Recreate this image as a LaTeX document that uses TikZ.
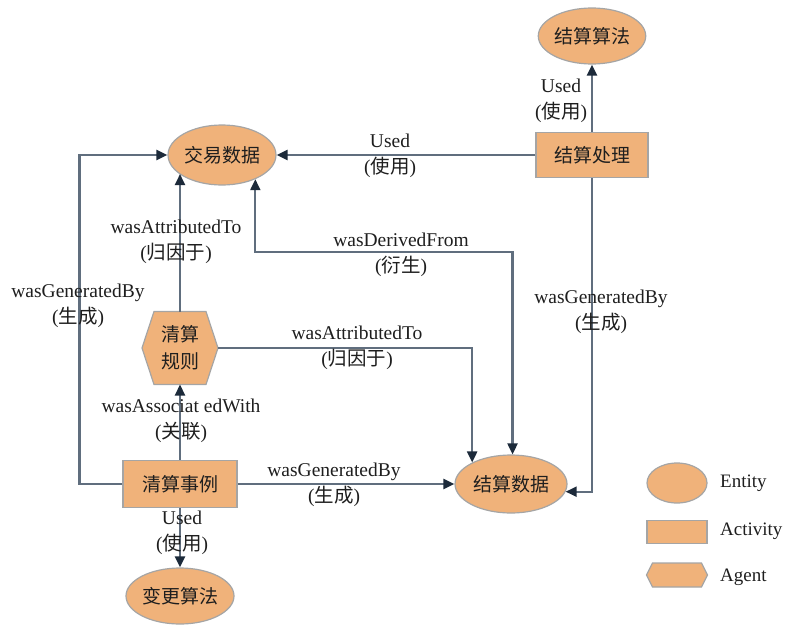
\documentclass[tikz,border=0pt]{standalone}
\usepackage{fontspec}
\setmainfont{Liberation Serif}
\newfontfamily\cjk{Noto Sans CJK SC}
\usetikzlibrary{arrows.meta,shapes.geometric,calc,backgrounds}

\definecolor{nodefill}{RGB}{240,178,122}
\definecolor{nodeedge}{RGB}{165,165,165}
\definecolor{linkc}{RGB}{96,110,126}
\definecolor{tipc}{RGB}{28,42,58}
\definecolor{txt}{RGB}{30,30,30}

\newcommand\zh[1]{{\cjk #1}}
% hexagon outline around a rectangular node: #1 node name, #2 corner cut
\newcommand\hexaround[2]{%
  \filldraw[fill=nodefill,draw=nodeedge,line width=1.2pt]
    (#1.west) -- ($(#1.north west)+(#2,0)$) -- ($(#1.north east)+(-#2,0)$)
    -- (#1.east) -- ($(#1.south east)+(-#2,0)$) -- ($(#1.south west)+(#2,0)$) -- cycle;}

\tikzset{
  nodetext/.style={font=\cjk\fontsize{19}{27}\selectfont, text=txt, align=center},
  entity/.style={ellipse, fill=nodefill, draw=nodeedge, line width=1.2pt, inner sep=0pt, nodetext},
  activity/.style={rectangle, fill=nodefill, draw=nodeedge, line width=1.2pt, inner sep=0pt, nodetext},
  agent/.style={rectangle, inner sep=0pt, outer sep=0pt, nodetext},
  link/.style={draw=linkc, line width=2.2pt, -{Triangle[length=11pt,width=10pt,color=tipc]}},
  linkboth/.style={draw=linkc, line width=2.2pt, {Triangle[length=11pt,width=10pt,color=tipc]}-{Triangle[length=11pt,width=10pt,color=tipc]}},
  lbl/.style={align=center, font=\fontsize{19.5}{26}\selectfont, text=txt, inner sep=0pt},
  keytext/.style={anchor=west, font=\fontsize{19}{22}\selectfont, text=txt, inner sep=0pt},
}

\begin{document}
\begin{tikzpicture}[x=1pt,y=-1pt]
\useasboundingbox (0,0) rectangle (787,624);

% provenance entities, activities and agent
\node[entity, minimum width=108pt, minimum height=60pt] (trade) at (222,155) {交易数据};
\node[entity, minimum width=106pt, minimum height=56pt] (algo) at (592,36) {结算算法};
\node[activity, minimum width=112pt, minimum height=45pt] (proc) at (592,155) {结算处理};
\node[agent, minimum width=76pt, minimum height=73pt] (rule) at (180,348) {清算\\规则};
\node[activity, minimum width=114pt, minimum height=47pt] (case) at (180,484) {清算事例};
\node[entity, minimum width=112pt, minimum height=58pt] (data) at (511,484) {结算数据};
\node[entity, minimum width=108pt, minimum height=56pt] (change) at (180,596) {变更算法};

% legend
\node[entity, minimum width=60pt, minimum height=40pt] (kent) at (677,483) {};
\node[activity, minimum width=60pt, minimum height=23pt] (kact) at (677,532) {};
\node[agent, minimum width=61pt, minimum height=24pt] (kagt) at (677,575) {};
\node[keytext] (tent) at (720,483) {Entity};
\node[keytext] (tact) at (720,531) {Activity};
\node[keytext] (tagt) at (720,577) {Agent};

\begin{scope}[on background layer]
  \hexaround{rule}{12}
  \hexaround{kagt}{6}
\end{scope}

% relations
\draw[link] (case.west) -- ++(-43,0) |- (trade.west);
\draw[link] (rule.north) -- (rule.north |- trade.204);
\draw[link] (proc.west) -- (trade.east);
\draw[link] (proc.north) -- (algo.south);
\draw[linkboth] (trade.-36) -- ++(0,73) -| (data.87);
\draw[link] (rule.east) -| (data.151);
\draw[link] (proc.south) |- (data.-8);
\draw[link] (case.north) -- (rule.south);
\draw[link] (case.east) -- (data.west);
\draw[link] (case.south) -- (change.north);

% relation labels
\node[lbl] (l1) at (78,306) {wasGeneratedBy\\(\zh{生成})};
\node[lbl] (l2) at (176,242) {wasAttributedTo\\(\zh{归因于})};
\node[lbl] (l3) at (390,156) {Used\\(\zh{使用})};
\node[lbl] (l4) at (561,101) {Used\\(\zh{使用})};
\node[lbl] (l5) at (401,255) {wasDerivedFrom\\(\zh{衍生})};
\node[lbl] (l6) at (601,312) {wasGeneratedBy\\(\zh{生成})};
\node[lbl] (l7) at (357,348) {wasAttributedTo\\(\zh{归因于})};
\node[lbl] (l8) at (181,421) {wasAssociat edWith\\(\zh{关联})};
\node[lbl] (l9) at (334,485) {wasGeneratedBy\\(\zh{生成})};
\node[lbl] (l10) at (182,533) {Used\\(\zh{使用})};
\end{tikzpicture}
\end{document}
